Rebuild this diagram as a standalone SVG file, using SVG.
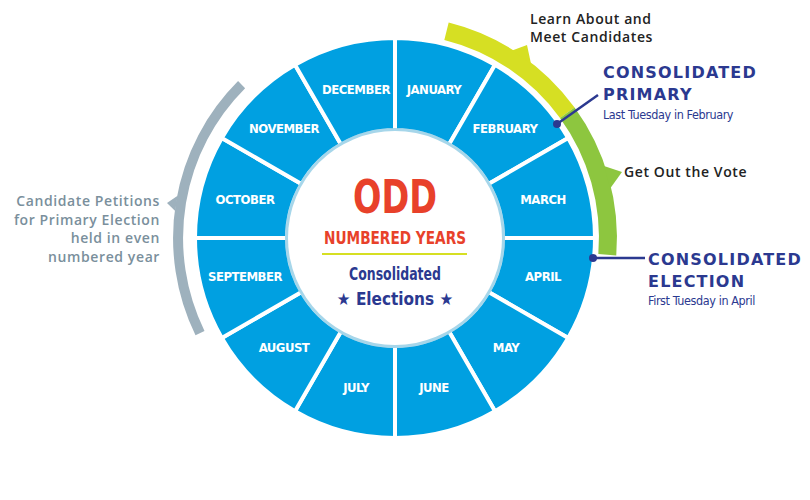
<svg xmlns="http://www.w3.org/2000/svg" width="810" height="500" viewBox="0 0 810 500">
<style>
.seg{fill:#00a0e1;stroke:#fff;stroke-width:4;stroke-linejoin:round}
.m{font-family:"DejaVu Sans",sans-serif;font-stretch:condensed;font-weight:bold;font-size:13px;fill:#fff;text-anchor:middle;letter-spacing:-0.5px}
.c{font-family:"DejaVu Sans",sans-serif;font-stretch:condensed;font-weight:bold;text-anchor:middle}
.h{font-family:"DejaVu Sans",sans-serif;font-weight:bold;font-size:16px;fill:#2b3990;letter-spacing:1.2px}
.s{font-family:"DejaVu Sans",sans-serif;font-stretch:condensed;font-size:12.5px;fill:#2b3990;letter-spacing:-0.4px}
.d{font-family:"Open Sans",sans-serif;font-weight:600;font-size:14px;fill:#222;letter-spacing:0.6px}
.g{font-family:"Open Sans",sans-serif;font-weight:600;font-size:14px;fill:#7a8f9c;text-anchor:end;letter-spacing:0.6px}
</style>
<rect width="810" height="500" fill="#fff"/>
<g id="gray-arc">
<path d="M241.6,84.6 A217,217 0 0 0 200,333.1" fill="none" stroke="#9eb1bd" stroke-width="10"/>
<polygon points="177.6,195.7 175.2,211 167,203" fill="#9eb1bd"/>
<text class="g"><tspan x="160" y="206">Candidate Petitions</tspan><tspan x="160" y="225">for Primary Election</tspan><tspan x="160" y="243">held in even</tspan><tspan x="160" y="262">numbered year</tspan></text>
</g>
<g id="campaign-arc">
<path d="M446.5,31.3 A213,213 0 0 1 567.3,112.8" fill="none" stroke="#d6df23" stroke-width="18"/>
<path d="M567.3,112.8 A213,213 0 0 1 607.3,254.7" fill="none" stroke="#8dc63f" stroke-width="18"/>
<polygon points="531,63.8 512.1,50.6 527,45" fill="#d6df23"/>
<polygon points="610.3,188.3 604,166 622,172" fill="#8dc63f"/>
<text class="d"><tspan x="530" y="24">Learn About and</tspan><tspan x="530" y="42">Meet Candidates</tspan></text>
<text class="d" x="624" y="177">Get Out the Vote</text>
</g>
<g id="months">
<g id="january"><path class="seg" d="M395,38 A200,200 0 0 1 495,64.8 L449,144.5 A108,108 0 0 0 395,130 Z"/><text class="m" x="434" y="94">JANUARY</text></g>
<g id="february"><path class="seg" d="M495,64.8 A200,200 0 0 1 568.2,138 L488.5,184 A108,108 0 0 0 449,144.5 Z"/><text class="m" x="505" y="133">FEBRUARY</text></g>
<g id="march"><path class="seg" d="M568.2,138 A200,200 0 0 1 595,238 L503,238 A108,108 0 0 0 488.5,184 Z"/><text class="m" x="543" y="204">MARCH</text></g>
<g id="april"><path class="seg" d="M595,238 A200,200 0 0 1 568.2,338 L488.5,292 A108,108 0 0 0 503,238 Z"/><text class="m" x="543" y="281">APRIL</text></g>
<g id="may"><path class="seg" d="M568.2,338 A200,200 0 0 1 495,411.2 L449,331.5 A108,108 0 0 0 488.5,292 Z"/><text class="m" x="506" y="352">MAY</text></g>
<g id="june"><path class="seg" d="M495,411.2 A200,200 0 0 1 395,438 L395,346 A108,108 0 0 0 449,331.5 Z"/><text class="m" x="434" y="392">JUNE</text></g>
<g id="july"><path class="seg" d="M395,438 A200,200 0 0 1 295,411.2 L341,331.5 A108,108 0 0 0 395,346 Z"/><text class="m" x="356" y="392">JULY</text></g>
<g id="august"><path class="seg" d="M295,411.2 A200,200 0 0 1 221.8,338 L301.5,292 A108,108 0 0 0 341,331.5 Z"/><text class="m" x="284" y="352">AUGUST</text></g>
<g id="september"><path class="seg" d="M221.8,338 A200,200 0 0 1 195,238 L287,238 A108,108 0 0 0 301.5,292 Z"/><text class="m" x="245" y="281">SEPTEMBER</text></g>
<g id="october"><path class="seg" d="M195,238 A200,200 0 0 1 221.8,138 L301.5,184 A108,108 0 0 0 287,238 Z"/><text class="m" x="245" y="204">OCTOBER</text></g>
<g id="november"><path class="seg" d="M221.8,138 A200,200 0 0 1 295,64.8 L341,144.5 A108,108 0 0 0 301.5,184 Z"/><text class="m" x="284" y="133">NOVEMBER</text></g>
<g id="december"><path class="seg" d="M295,64.8 A200,200 0 0 1 395,38 L395,130 A108,108 0 0 0 341,144.5 Z"/><text class="m" x="356" y="94">DECEMBER</text></g>
</g>
<g id="center">
<circle cx="395" cy="238" r="110" fill="#0089c4" opacity="0.35"/>
<circle cx="395" cy="238" r="107" fill="#fff"/>
<text class="c" x="395" y="213" font-size="46" fill="#e8412a" textLength="84" lengthAdjust="spacingAndGlyphs">ODD</text>
<text class="c" x="395" y="244" font-size="18" fill="#e8412a" textLength="142" lengthAdjust="spacingAndGlyphs">NUMBERED YEARS</text>
<line x1="322" y1="254" x2="467" y2="254" stroke="#d6df23" stroke-width="2"/>
<text class="c" x="395" y="280" font-size="17" fill="#2b3990" font-weight="normal" textLength="92" lengthAdjust="spacingAndGlyphs">Consolidated</text>
<text class="c" x="395" y="305" font-size="17" fill="#2b3990" font-weight="normal">★ Elections ★</text>
</g>
<g id="connectors">
<line x1="557" y1="124" x2="598" y2="95" stroke="#2b3990" stroke-width="2.5"/>
<circle cx="557" cy="124" r="4" fill="#2b3990"/>
<line x1="593" y1="258" x2="645" y2="258" stroke="#2b3990" stroke-width="2.5"/>
<circle cx="593" cy="258" r="4" fill="#2b3990"/>
</g>
<g id="primary-label">
<text class="h"><tspan x="603" y="78">CONSOLIDATED</tspan><tspan x="603" y="100">PRIMARY</tspan></text>
<text class="s" x="603" y="119">Last Tuesday in February</text>
</g>
<g id="election-label">
<text class="h"><tspan x="648" y="265">CONSOLIDATED</tspan><tspan x="648" y="287">ELECTION</tspan></text>
<text class="s" x="648" y="305">First Tuesday in April</text>
</g>
</svg>
